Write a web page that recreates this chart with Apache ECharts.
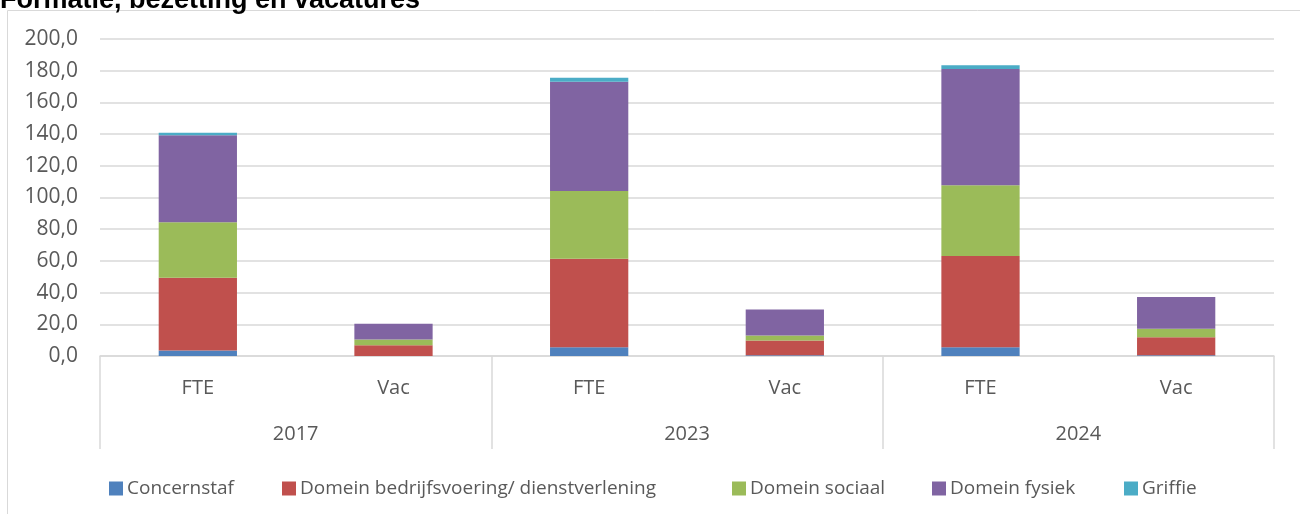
<!DOCTYPE html>
<html>
<head>
<meta charset="utf-8">
<script src="https://cdn.jsdelivr.net/npm/echarts@6/dist/echarts.min.js"></script>
<style>
  html, body { margin: 0; padding: 0; background: #fff; }
  #chart { width: 1300px; height: 514px; }
</style>
</head>
<body>
<div id="chart"></div>
<script>
// categorieen (onderste rij) en jaren (tweede rij)
const categories = ["FTE", "Vac", "FTE", "Vac", "FTE", "Vac"];
const years = ["2017", "2023", "2024"];
const yTicks = { min: 0, max: 200, interval: 20 };

// waarden per domein, volgorde = categories
const concernstaf = [3.5, 0, 5.5, 0.5, 5.5, 0.5];
const bedrijfsvoering = [45.9, 6.8, 55.8, 9.3, 57.6, 11.4];
const sociaal = [35.0, 3.6, 42.8, 3.2, 44.6, 5.3];
const fysiek = [54.9, 9.9, 69.0, 16.4, 73.3, 20.0];
const griffie = [1.5, 0, 2.4, 0, 2.4, 0];

const names = [
  "Concernstaf",
  "Domein bedrijfsvoering/ dienstverlening",
  "Domein sociaal",
  "Domein fysiek",
  "Griffie",
];
const color = ["#4F81BD", "#C0504D", "#9BBB59", "#8064A2", "#4BACC6"];
// startpositie van elk legenda-item
const legendLeft = [109, 282, 732, 932, 1124];
const font = "'Open Sans', 'Noto Sans', sans-serif";
const labelColor = "#595959";
const lineColor = "#D9D9D9";

const myChart = echarts.init(document.getElementById("chart"));

const seriesdata = [concernstaf, bedrijfsvoering, sociaal, fysiek, griffie].map(
  (d, i) => ({
    name: names[i],
    type: "bar",
    stack: "totaal",
    barWidth: "40%",
    xAxisIndex: 0,
    data: d,
  })
);

const legends = names.map((n, i) => ({
  bottom: 16,
  left: legendLeft[i],
  padding: 0,
  icon: "rect",
  itemWidth: 14,
  itemHeight: 14,
  textStyle: { color: labelColor, fontSize: 19, fontFamily: font, padding: [0, 0, 0, -1] },
  data: [n],
}));

const option = {
  animation: false,
  color: color,
  textStyle: { fontFamily: font },
  title: {
    text: "Formatie, bezetting en vacatures",
    left: 0,
    top: -13,
    padding: 0,
    textStyle: {
      fontFamily: "'Liberation Sans', Arial, sans-serif",
      fontWeight: "bold",
      fontSize: 27,
      color: "#000",
    },
  },
  graphic: [
    {
      type: "rect",
      shape: { x: 7.5, y: 10.5, width: 1310, height: 520 },
      style: { fill: "none", stroke: lineColor, lineWidth: 1 },
      silent: true,
      z: -1,
    },
  ],
  grid: {
    left: 100,
    right: 26,
    top: 39,
    bottom: 158,
  },
  legend: legends,
  xAxis: [
    {
      type: "category",
      data: categories,
      axisLine: { show: true, lineStyle: { color: lineColor, width: 1.5 } },
      axisTick: { show: false },
      axisLabel: { color: labelColor, fontSize: 20, margin: 22, interval: 0 },
    },
    {
      type: "category",
      data: years,
      position: "bottom",
      axisLine: { show: false },
      axisTick: {
        show: true,
        length: 93,
        interval: 0,
        lineStyle: { color: lineColor, width: 1.5 },
      },
      axisLabel: { color: labelColor, fontSize: 20, margin: 68, interval: 0 },
      splitLine: { show: false },
    },
  ],
  yAxis: {
    type: "value",
    min: yTicks.min,
    max: yTicks.max,
    interval: yTicks.interval,
    axisLine: { show: false },
    axisTick: { show: false },
    axisLabel: {
      color: labelColor,
      fontSize: 21,
      margin: 22,
      formatter: (v) => v.toFixed(1).replace(".", ","),
    },
    splitLine: { show: true, lineStyle: { color: lineColor, width: 1.5 } },
  },
  series: seriesdata,
};
myChart.setOption(option);
</script>
</body>
</html>
